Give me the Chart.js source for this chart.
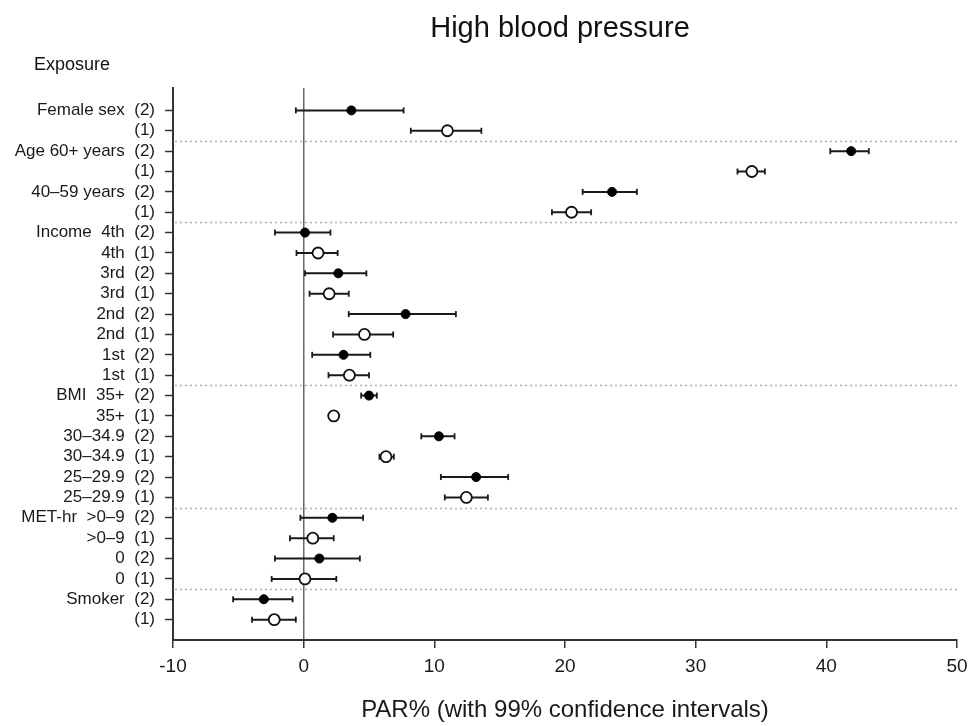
<!DOCTYPE html>
<html>
<head>
<meta charset="utf-8">
<script src="https://cdn.jsdelivr.net/npm/chart.js@4.4.1/dist/chart.umd.min.js"></script>
<style>
  html, body { margin: 0; padding: 0; background: #fff; }
  #wrap { width: 969px; height: 726px; }
</style>
</head>
<body>
<div id="wrap"><canvas id="forest"></canvas></div>
<script>
// ====== DATA ======
const rowLabels = [
    "Female sex  (2)", "(1)",
    "Age 60+ years  (2)", "(1)",
    "40\u201359 years  (2)", "(1)",
    "Income  4th  (2)", "4th  (1)",
    "3rd  (2)", "3rd  (1)",
    "2nd  (2)", "2nd  (1)",
    "1st  (2)", "1st  (1)",
    "BMI  35+  (2)", "35+  (1)",
    "30\u201334.9  (2)", "30\u201334.9  (1)",
    "25\u201329.9  (2)", "25\u201329.9  (1)",
    "MET-hr  >0\u20139  (2)", ">0\u20139  (1)",
    "0  (2)", "0  (1)",
    "Smoker  (2)", "(1)"
];
const estimates = [3.65, 11.0, 41.9, 34.3, 23.6, 20.5, 0.1, 1.1, 2.65, 1.95, 7.8, 4.65, 3.05, 3.5, 5.0, 2.3, 10.35, 6.3, 13.2, 12.45, 2.2, 0.7, 1.2, 0.1, -3.05, -2.25];
const lowerCI   = [-0.6, 8.2, 40.3, 33.2, 21.35, 19.0, -2.2, -0.55, 0.1, 0.45, 3.45, 2.25, 0.65, 1.9, 4.4, 2.0, 9.0, 5.8, 10.5, 10.8, -0.25, -1.05, -2.2, -2.45, -5.4, -3.95];
const upperCI   = [7.65, 13.6, 43.25, 35.3, 25.5, 22.0, 2.05, 2.6, 4.8, 3.45, 11.65, 6.85, 5.1, 5.0, 5.6, 2.6, 11.55, 6.9, 15.65, 14.1, 4.55, 2.3, 4.3, 2.5, -0.85, -0.6];
// dotted lines between exposure groups (row positions)
const groupBreaks = [2.5, 6.5, 14.5, 20.5, 24.5];
const xTicks = [-10, 0, 10, 20, 30, 40, 50];

const titleText = "High blood pressure";
const yHeader = "Exposure";
const xTitle = "PAR% (with 99% confidence intervals)";

// model (2) rows are filled, model (1) rows are open
const filledPts = [];
const openPts = [];
estimates.forEach((v, i) => {
    const p = { x: v, y: i + 1 };
    if (i % 2 === 0) filledPts.push(p); else openPts.push(p);
});

const ciPts = [];
lowerCI.forEach((lo, i) => {
    ciPts.push({ x: lo, y: i + 1 });
    ciPts.push({ x: upperCI[i], y: i + 1 });
    ciPts.push({ x: null, y: i + 1 });   // gap
});

Chart.defaults.font.family = '"Liberation Sans", Arial, Helvetica, sans-serif';
Chart.defaults.color = '#1a1a1a';

const decorPlugin = {
    id: 'decor',
    beforeDatasetsDraw(chart) {
        const { ctx, chartArea, scales } = chart;
        ctx.save();
        ctx.strokeStyle = '#b0b0b0';
        ctx.lineWidth = 1.5;
        ctx.setLineDash([2, 3]);
        groupBreaks.forEach(b => {
            const y = Math.round(scales.y.getPixelForValue(b)) + 0.5;
            ctx.beginPath();
            ctx.moveTo(chartArea.left + 2, y);
            ctx.lineTo(chartArea.right, y);
            ctx.stroke();
        });
        ctx.restore();
    },
    afterDraw(chart) {
        const { ctx } = chart;
        ctx.save();
        ctx.fillStyle = '#111';
        ctx.textBaseline = 'alphabetic';
        ctx.font = '29px "Liberation Sans", Arial, sans-serif';
        ctx.textAlign = 'center';
        ctx.fillText(titleText, 560, 37);
        ctx.font = '18px "Liberation Sans", Arial, sans-serif';
        ctx.textAlign = 'left';
        ctx.fillText(yHeader, 34, 70);
        ctx.restore();
    }
};

new Chart(document.getElementById('forest'), {
    type: 'scatter',
    data: {
        datasets: [
            {
                label: 'Model 2',
                data: filledPts,
                pointStyle: 'circle',
                pointRadius: 4.5,
                pointBackgroundColor: '#000',
                pointBorderColor: '#000',
                pointBorderWidth: 1
            },
            {
                label: 'Model 1',
                data: openPts,
                pointStyle: 'circle',
                pointRadius: 5.5,
                pointBackgroundColor: '#fff',
                pointBorderColor: '#111',
                pointBorderWidth: 1.8
            },
            {
                label: '99% CI',
                data: ciPts,
                showLine: true,
                spanGaps: false,
                borderColor: '#1a1a1a',
                borderWidth: 2,
                pointStyle: 'line',
                pointRotation: 90,
                pointRadius: 3,
                pointBorderColor: '#1a1a1a',
                pointBorderWidth: 1.8
            }
        ]
    },
    options: {
        responsive: true,
        maintainAspectRatio: false,
        animation: false,
        layout: { padding: { top: 88, right: 12, left: 0, bottom: 0 } },
        plugins: {
            legend: { display: false },
            tooltip: { enabled: false }
        },
        scales: {
            x: {
                type: 'linear',
                min: -10,
                max: 50,
                afterBuildTicks: (scale) => { scale.ticks = xTicks.map(v => ({ value: v })); },
                afterFit: (scale) => {
                    scale.height = 86;
                    scale.paddingLeft = 0;
                    scale.paddingRight = 0;
                },
                ticks: { font: { size: 19 }, padding: 7, autoSkip: false, maxRotation: 0 },
                grid: {
                    drawOnChartArea: true,
                    color: (c) => (c.tick && c.tick.value === 0) ? '#666' : 'rgba(0,0,0,0)',
                    lineWidth: 1.5,
                    tickColor: '#333',
                    tickLength: 8,
                    tickWidth: 1.5
                },
                border: { display: true, color: '#333', width: 2 },
                title: {
                    display: true,
                    text: xTitle,
                    font: { size: 24 },
                    padding: { top: 10, bottom: 1 }
                }
            },
            y: {
                type: 'linear',
                reverse: true,
                min: -0.1,
                max: 27,
                afterBuildTicks: (scale) => { scale.ticks = rowLabels.map((_, i) => ({ value: i + 1 })); },
                afterFit: (scale) => { scale.width = 173; },
                ticks: {
                    font: { size: 17 },
                    padding: 10,
                    autoSkip: false,
                    callback: (v) => rowLabels[Math.round(v) - 1] || ''
                },
                grid: {
                    drawOnChartArea: false,
                    tickColor: '#333',
                    tickLength: 8,
                    tickWidth: 1.5
                },
                border: { display: true, color: '#333', width: 2 }
            }
        }
    },
    plugins: [decorPlugin]
});
</script>
</body>
</html>
